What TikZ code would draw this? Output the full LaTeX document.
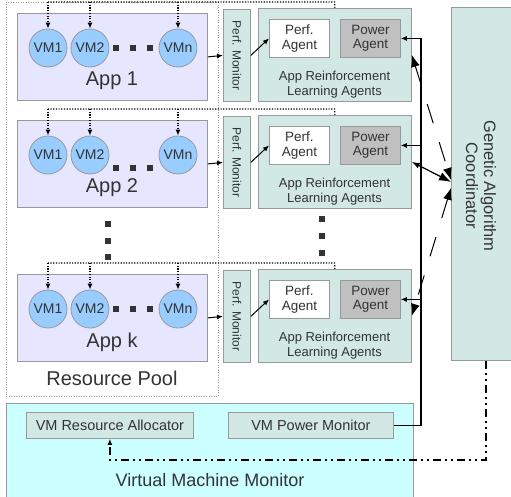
\documentclass[tikz,border=0pt]{standalone}
\usepackage{fontspec}
\setmainfont{Liberation Sans}
\usetikzlibrary{arrows.meta}
\definecolor{appfill}{HTML}{E6E6FF}
\definecolor{vmfill}{HTML}{99CCFF}
\definecolor{tealfill}{HTML}{D1E8E4}
\definecolor{powfill}{HTML}{C0C0C0}
\definecolor{vmmfill}{HTML}{CCFFFF}
\definecolor{edge}{HTML}{999999}
\definecolor{ink}{HTML}{333333}
\begin{document}
\begin{tikzpicture}[x=1pt,y=-1pt,
  box/.style={draw=edge, line width=0.8pt, inner sep=0pt, anchor=north west, text=ink},
  appbox/.style={box, fill=appfill, minimum width=190pt, minimum height=87pt},
  vm/.style={circle, draw=edge, line width=0.8pt, fill=vmfill, minimum size=38pt, inner sep=0pt, text=ink, font=\fontsize{14}{14}\selectfont},
  pmbox/.style={box, fill=tealfill, minimum width=27pt, minimum height=92pt},
  rlbox/.style={box, fill=tealfill, minimum width=153pt, minimum height=93pt},
  agent/.style={box, minimum width=60pt, minimum height=38pt, align=center, font=\fontsize{13.5}{14.5}\selectfont},
  lbl/.style={text=ink, inner sep=0pt},
  sq/.style={fill=ink, minimum size=6pt, inner sep=0pt},
  dotline/.style={line width=1.2pt, dash pattern=on 1.2pt off 1.5pt},
  tip/.style={-{Latex[length=6pt,width=5pt]}},
  gadash/.style={line width=1pt, dash pattern=on 20pt off 20pt,
    {Latex[length=12pt,width=9pt]}-{Latex[length=12pt,width=9pt]}},
  ddot/.style={line width=1.8pt, dash pattern=on 8pt off 4pt on 2pt off 4pt on 2pt off 4pt}
]
\useasboundingbox (0,0) rectangle (511,496);

% resource pool
\node[draw=edge, line width=0.8pt, dash pattern=on 1pt off 1.5pt, inner sep=0pt,
      minimum width=212pt, minimum height=394pt, anchor=north west] (pool) at (6,2) {};
\node[lbl, font=\fontsize{20}{20}\selectfont] (poolt) at (112,378) {Resource Pool};

% one row per application
\foreach \nm/\yy/\dy in {1/13/35, 2/120/48, k/274/35} {
  \node[appbox] (app\nm) at (17,\yy) {};
  \node[vm] (vma\nm) at (48,{\yy+35}) {VM1};
  \node[vm] (vmb\nm) at (90,{\yy+35}) {VM2};
  \node[vm] (vmc\nm) at (178,{\yy+35}) {VMn};
  \node[sq] (hda\nm) at (116,{\yy+\dy}) {};
  \node[sq] (hdb\nm) at (133,{\yy+\dy}) {};
  \node[sq] (hdc\nm) at (150,{\yy+\dy}) {};
  \node[lbl, font=\fontsize{20}{20}\selectfont] (appt\nm) at (112,{\yy+68}) {App \nm};

  \node[pmbox] (pm\nm) at (223,{\yy-4}) {};
  \node[lbl, rotate=-90, font=\fontsize{12}{12}\selectfont] (pmt\nm) at (pm\nm.center) {Perf. Monitor};

  \node[rlbox] (rl\nm) at (258,{\yy-5}) {};
  \node[agent, fill=white] (pa\nm) at (269,{\yy+6}) {Perf.\\Agent};
  \node[agent, fill=powfill] (pw\nm) at (340,{\yy+6}) {Power\\Agent};
  \node[lbl, align=center, font=\fontsize{13}{15}\selectfont] (rlt\nm) at (334.5,{\yy+72}) {App Reinforcement\\Learning Agents};

  \coordinate (bus\nm) at (334.5,{\yy-11});
  \draw[dotline] (rl\nm.north) -- (bus\nm) -- (bus\nm -| vma\nm.north);
  \foreach \v in {a,b,c}
    \draw[dotline, tip] (bus\nm -| vm\v\nm.north) -- (vm\v\nm.north);

  \draw[line width=1pt, tip] (app\nm.east) -- (pm\nm.west);
  \draw[line width=1pt, tip] (pm\nm.east) -- (pa\nm.west);
}

% vertical ellipses between rows
\node[sq] (vla) at (108,224) {};
\node[sq] (vlb) at (108,241) {};
\node[sq] (vlc) at (108,257) {};
\node[sq] (vra1) at (322,219) {};
\node[sq] (vra2) at (322,236) {};
\node[sq] (vra3) at (322,253) {};

% genetic algorithm coordinator
\node[box, fill=tealfill, minimum width=69pt, minimum height=353pt] (ga) at (451,7) {};
\node[lbl, rotate=-90, align=center, font=\fontsize{16.5}{18}\selectfont] (gat) at (481,186) {Genetic Algorithm\\Coordinator};

% virtual machine monitor
\node[box, fill=vmmfill, minimum width=407pt, minimum height=100pt] (vmm) at (6,403) {};
\node[lbl, font=\fontsize{18}{18}\selectfont] (vmmt) at (210,480) {Virtual Machine Monitor};
\node[box, fill=tealfill, minimum width=167pt, minimum height=26pt, font=\fontsize{14.5}{14.5}\selectfont] (vra) at (26,412) {VM Resource Allocator};
\node[box, fill=tealfill, minimum width=165pt, minimum height=26pt, font=\fontsize{14.5}{14.5}\selectfont] (vpm) at (228,412) {VM Power Monitor};

% power readings fed to every power agent
\coordinate (trunk) at (421,0);
\draw[line width=1.4pt] (vpm.east) -- (vpm.east -| trunk) -- (pw1.east -| trunk);
\foreach \nm in {1,2,k}
  \draw[line width=1pt, tip] (pw\nm.east -| trunk) -- (pw\nm.east);

% coordinator links
\draw[gadash] (rl1.east) -- ([yshift=4pt]ga.west);
\draw[gadash] ([yshift=-4pt]ga.west) -- (rlk.east);
\draw[line width=1.2pt, {Latex[length=8pt,width=6pt]}-{Latex[length=12pt,width=9pt]}] (rl2.east) -- ([yshift=2pt]ga.west);

% allocation decisions back to the allocator
\coordinate (ddy) at (0,460);
\draw[ddot, tip] (ga.south) -- (ga.south |- ddy) -| (vra.south);
\end{tikzpicture}
\end{document}
